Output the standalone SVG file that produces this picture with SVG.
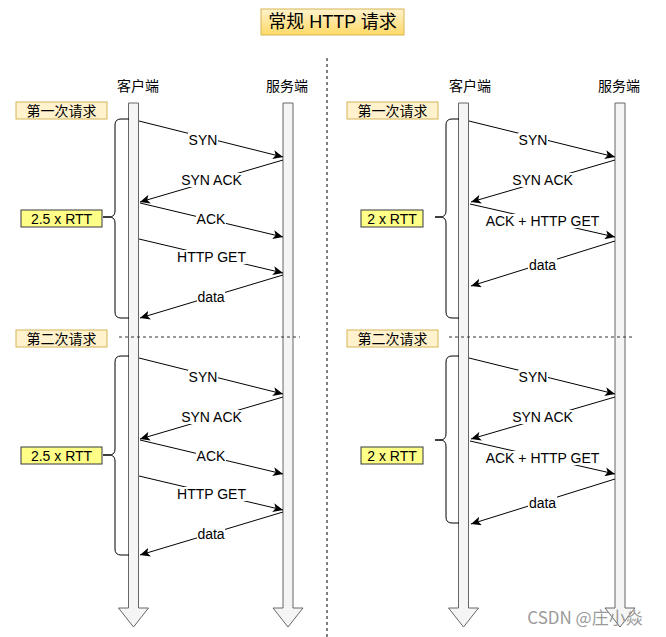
<svg xmlns="http://www.w3.org/2000/svg" width="666" height="637" viewBox="0 0 666 637">
<defs>
<linearGradient id="tg" x1="0" y1="0" x2="0" y2="1"><stop offset="0" stop-color="#fff2cc"/><stop offset="1" stop-color="#ffd966"/></linearGradient>
<marker id="ah" markerUnits="userSpaceOnUse" markerWidth="11" markerHeight="9" refX="10" refY="4.5" orient="auto" viewBox="0 0 11 9"><path d="M0,0 L10,4.5 L0,9 L2.5,4.5 Z" fill="#000"/></marker>
<style>
text{font-family:"Liberation Sans","Noto Sans CJK SC",sans-serif;font-size:14px;fill:#000;text-anchor:middle}
.life{fill:#f5f5f5;stroke:#666;stroke-width:1}
.msg{stroke:#000;stroke-width:1;fill:none;marker-end:url(#ah)}
.lbl{fill:#fff;stroke:none}
.req{fill:#fff2cc;stroke:#d6b656;stroke-width:1}
.rtt{fill:#ffff88;stroke:#36393d;stroke-width:1}
.brace{fill:none;stroke:#000;stroke-width:1}
.sep{stroke:#333;stroke-width:1;stroke-dasharray:3 3;fill:none}
</style>
</defs>
<rect width="666" height="637" fill="#fff"/>

<g id="title"><rect x="261" y="9" width="143" height="26" fill="url(#tg)" stroke="#d6b656"/><text x="332.5" y="28" style="font-size:18px">常规 HTTP 请求</text></g>

<g id="divider"><line x1="327" y1="58" x2="327" y2="637" stroke="#000" stroke-dasharray="3 3"/></g>

<g id="lifelines">
<g id="l-client"><text x="138" y="91">客户端</text><polygon class="life" points="128.5,103 138.5,103 138.5,608 148.5,608 133.5,627 118.5,608 128.5,608"/></g>
<g id="l-server"><text x="287" y="91">服务端</text><polygon class="life" points="283,103 293,103 293,608 303,608 288,627 273,608 283,608"/></g>
<g id="r-client"><text x="470" y="91">客户端</text><polygon class="life" points="458.5,103 468.5,103 468.5,608 478.5,608 463.5,627 448.5,608 458.5,608"/></g>
<g id="r-server"><text x="619" y="91">服务端</text><polygon class="life" points="615,103 625,103 625,608 635,608 620,627 605,608 615,608"/></g>
</g>

<g id="labels">
<g id="l-req1"><rect class="req" x="16" y="102" width="91" height="17"/><text x="61.5" y="115.5">第一次请求</text></g>
<g id="l-req2"><rect class="req" x="16" y="330" width="91" height="17"/><text x="61.5" y="343.5">第二次请求</text></g>
<g id="r-req1"><rect class="req" x="347" y="102" width="91" height="17"/><text x="392.5" y="115.5">第一次请求</text></g>
<g id="r-req2"><rect class="req" x="347" y="330" width="91" height="17"/><text x="392.5" y="343.5">第二次请求</text></g>
<g id="l-rtt1"><rect class="rtt" x="21" y="210" width="81" height="17"/><text x="61.5" y="223.5">2.5 x RTT</text></g>
<g id="l-rtt2"><rect class="rtt" x="21" y="447" width="81" height="17"/><text x="61.5" y="460.5">2.5 x RTT</text></g>
<g id="r-rtt1"><rect class="rtt" x="361" y="210" width="62" height="17"/><text x="392" y="223.5">2 x RTT</text></g>
<g id="r-rtt2"><rect class="rtt" x="361" y="447" width="62" height="17"/><text x="392" y="460.5">2 x RTT</text></g>
</g>

<g id="braces">
<path class="brace" d="M129,119 L121,119 Q115,119 115,125 L115,211 Q115,217 109,217 L103,217 L109,217 Q115,217 115,223 L115,312 Q115,318 121,318 L129,318"/>
<path class="brace" d="M129,356 L121,356 Q115,356 115,362 L115,449 Q115,455 109,455 L103,455 L109,455 Q115,455 115,461 L115,549 Q115,555 121,555 L129,555"/>
<path class="brace" d="M459,119 L452,119 Q446,119 446,125 L446,211 Q446,217 440,217 L435,217 L440,217 Q446,217 446,223 L446,312 Q446,318 452,318 L459,318"/>
<path class="brace" d="M459,356 L452,356 Q446,356 446,362 L446,434 Q446,440 440,440 L435,440 L440,440 Q446,440 446,446 L446,517 Q446,523 452,523 L459,523"/>
</g>

<g id="separators">
<line class="sep" x1="119" y1="337" x2="300" y2="337"/>
<line class="sep" x1="449" y1="337" x2="632" y2="337"/>
</g>

<g id="connectors">
<g id="left1">
<line class="msg" x1="139" y1="121" x2="283" y2="157"/>
<line class="msg" x1="283" y1="160" x2="140" y2="202"/>
<line class="msg" x1="140" y1="203" x2="283" y2="237"/>
<line class="msg" x1="139" y1="239" x2="283" y2="273"/>
<line class="msg" x1="283" y1="275" x2="140" y2="318"/>
<rect class="lbl" x="188" y="133" width="30" height="14"/><text x="203" y="145">SYN</text>
<rect class="lbl" x="180" y="173" width="63" height="14"/><text x="211.5" y="185">SYN ACK</text>
<rect class="lbl" x="196" y="212" width="30" height="14"/><text x="211" y="224">ACK</text>
<rect class="lbl" x="176" y="250" width="71" height="14"/><text x="211.5" y="262">HTTP GET</text>
<rect class="lbl" x="197" y="290" width="28" height="14"/><text x="211" y="302">data</text>
</g>
<g id="left2" transform="translate(0,237)">
<line class="msg" x1="139" y1="121" x2="283" y2="157"/>
<line class="msg" x1="283" y1="160" x2="140" y2="202"/>
<line class="msg" x1="140" y1="203" x2="283" y2="237"/>
<line class="msg" x1="139" y1="239" x2="283" y2="273"/>
<line class="msg" x1="283" y1="275" x2="140" y2="318"/>
<rect class="lbl" x="188" y="133" width="30" height="14"/><text x="203" y="145">SYN</text>
<rect class="lbl" x="180" y="173" width="63" height="14"/><text x="211.5" y="185">SYN ACK</text>
<rect class="lbl" x="196" y="212" width="30" height="14"/><text x="211" y="224">ACK</text>
<rect class="lbl" x="176" y="250" width="71" height="14"/><text x="211.5" y="262">HTTP GET</text>
<rect class="lbl" x="197" y="290" width="28" height="14"/><text x="211" y="302">data</text>
</g>
<g id="right1">
<line class="msg" x1="469" y1="121" x2="615" y2="157"/>
<line class="msg" x1="615" y1="160" x2="471" y2="202"/>
<line class="msg" x1="470" y1="204" x2="615" y2="237"/>
<line class="msg" x1="615" y1="241" x2="471" y2="286"/>
<rect class="lbl" x="518" y="133" width="30" height="14"/><text x="533" y="145">SYN</text>
<rect class="lbl" x="511" y="173" width="63" height="14"/><text x="542.5" y="185">SYN ACK</text>
<rect class="lbl" x="483" y="214" width="119" height="14"/><text x="542.5" y="226">ACK + HTTP GET</text>
<rect class="lbl" x="528" y="258" width="29" height="14"/><text x="542.5" y="270">data</text>
</g>
<g id="right2" transform="translate(0,237)">
<line class="msg" x1="469" y1="121" x2="615" y2="157"/>
<line class="msg" x1="615" y1="160" x2="471" y2="202"/>
<line class="msg" x1="470" y1="204" x2="615" y2="237"/>
<line class="msg" x1="615" y1="242" x2="471" y2="287"/>
<rect class="lbl" x="518" y="133" width="30" height="14"/><text x="533" y="145">SYN</text>
<rect class="lbl" x="511" y="173" width="63" height="14"/><text x="542.5" y="185">SYN ACK</text>
<rect class="lbl" x="483" y="214" width="119" height="14"/><text x="542.5" y="226">ACK + HTTP GET</text>
<rect class="lbl" x="528" y="259" width="29" height="14"/><text x="542.5" y="271">data</text>
</g>
</g>

<g id="watermark"><text x="585" y="624" style="font-size:17px;fill:#9a9a9a;font-family:'Noto Sans CJK SC','Liberation Sans',sans-serif">CSDN @庄小焱</text></g>
</svg>
